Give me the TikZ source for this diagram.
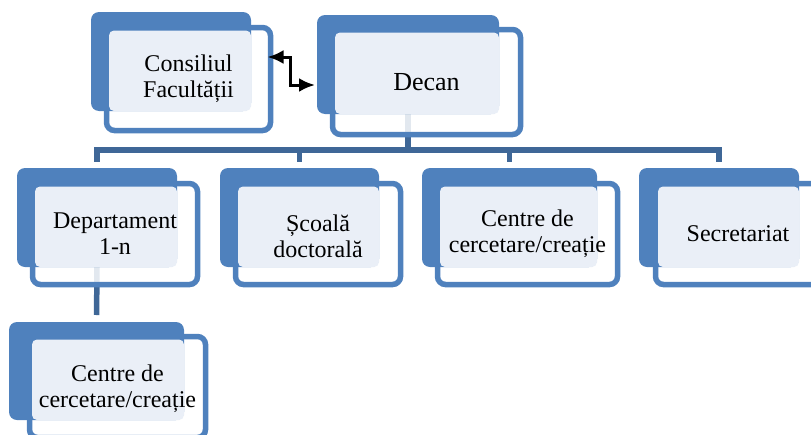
\documentclass[tikz,border=0pt]{standalone}
\usepackage{fontspec}
\setmainfont{Liberation Serif}
\usepackage{xcolor}
\usepackage{tikz}
\usetikzlibrary{arrows.meta, positioning, backgrounds, calc}

\definecolor{unitblue}{HTML}{4F81BD}
\definecolor{unitpale}{HTML}{EAEFF7}
\definecolor{linkblue}{HTML}{3F6797}

\begin{document}
\begin{tikzpicture}[
    x=1pt, y=-1pt,
    frame/.style={
        rectangle,
        draw=unitblue,
        line width=5.5pt,
        fill=white,
        fill opacity=0.85,
        rounded corners=8pt,
        minimum height=101pt,
        inner sep=0pt,
        outer sep=0pt
    },
    back/.style={
        rectangle,
        fill=unitblue,
        rounded corners=8pt,
        minimum height=99pt,
        inner sep=0pt,
        outer sep=0pt
    },
    unittext/.style={
        align=center,
        text=black,
        font=\fontsize{24pt}{26pt}\selectfont
    },
    link/.style={
        draw=linkblue,
        line width=5.5pt
    },
    duplex/.style={
        {Latex[length=16pt,width=14pt]}-{Latex[length=16pt,width=14pt]},
        line width=3pt,
        color=black
    }
]
\useasboundingbox (0,0) rectangle (811,434);
\clip (0,0) rectangle (811,434);

% Frames
\node[frame, minimum width=164pt, minimum height=103pt] (consF) at (188.5,79) {};
\node[frame, minimum width=188pt, minimum height=105pt] (decanF) at (426.5,82) {};
\node[frame, minimum width=165pt] (deptF) at (115,234) {};
\node[frame, minimum width=165pt] (scoalaF) at (318,234) {};
\node[frame, minimum width=180pt] (centreF) at (527.5,234) {};
\node[frame, minimum width=165pt] (secrF) at (738,234) {};
\node[frame, minimum width=176pt] (subF) at (117.5,387) {};

% Blue backs
\node[back, minimum width=160pt] (consB) at (171,61.5) {};
\node[back, minimum width=182pt] (decanB) at (408,64.5) {};
\node[back, minimum width=160pt] (deptB) at (97,217.5) {};
\node[back, minimum width=159pt] (scoalaB) at (299.5,217.5) {};
\node[back, minimum width=175pt] (centreB) at (509.5,217.5) {};
\node[back, minimum width=160pt] (secrB) at (719,217.5) {};
\node[back, minimum width=175pt, minimum height=98pt] (subB) at (96.5,371) {};

% Text panels
\foreach \unitname in {cons, decan, dept, scoala, centre, secr, sub}
    \fill[unitpale, rounded corners=5pt] ([shift={(2.5pt,-3pt)}]\unitname F.north west) rectangle (\unitname B.south east);

% Texts
\node[unittext] (cons) at (consF) {Consiliul\\Facultății};
\node[unittext, font=\fontsize{26pt}{29pt}\selectfont] (decan) at (decanF) {Decan};
\node[unittext] (dept) at (deptF) {Departament\\1-n};
\node[unittext] (scoala) at ([yshift=-2pt]scoalaF.center) {Școală\\doctorală};
\node[unittext] (centre) at (centreF) {Centre de\\cercetare/creație};
\node[unittext] (secr) at (secrF) {Secretariat};
\node[unittext] (sub) at ([yshift=-2pt]subF.center) {Centre de\\cercetare/creație};

% Arrows
\draw[duplex] ([xshift=-3pt, yshift=22pt]consF.east) -- ++(23,0) |- ([xshift=-2pt, yshift=-20.5pt]decanB.west);

\begin{scope}[on background layer]
\foreach \child in {deptB, scoalaB, centreB, secrB}
    \draw[link, shorten >=6pt] (decanB.south) -- ++(0,36) -| (\child.north);
\draw[link, shorten >=7pt] (deptB.south) -- (subB.north);
\end{scope}

\end{tikzpicture}
\end{document}
